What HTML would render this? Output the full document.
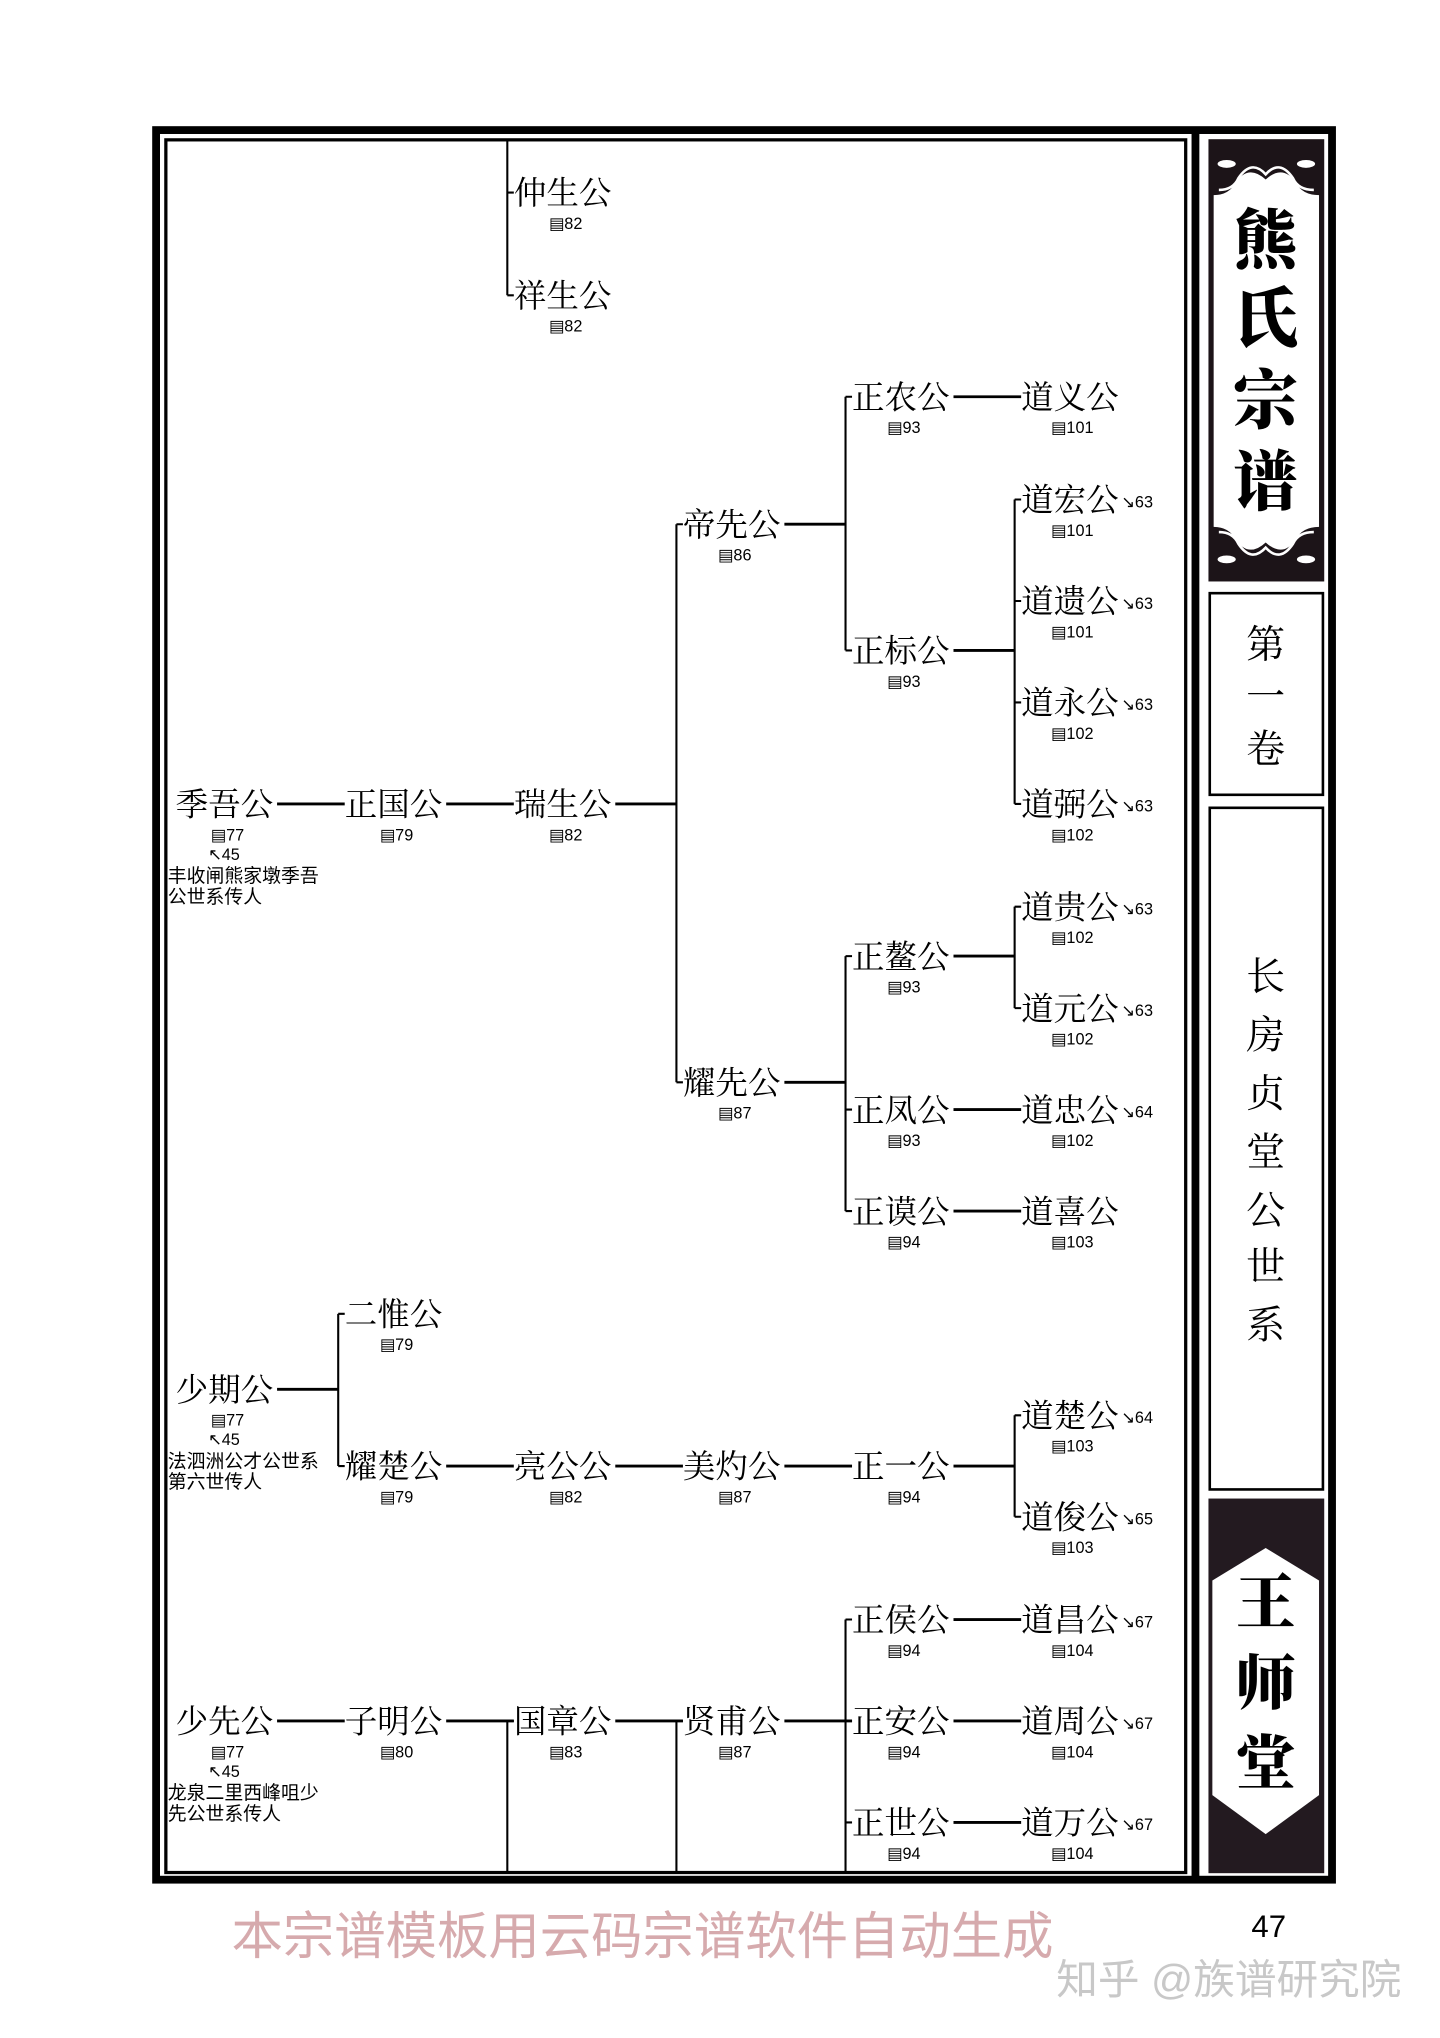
<!DOCTYPE html>
<html><head><meta charset="utf-8"><style>
html,body{margin:0;padding:0;background:#fff;}
svg{display:block;}
.n{font-family:"Liberation Serif","Noto Serif CJK SC",serif;font-size:25px;fill:#000;}
.r{font-family:"Liberation Sans Narrow","Liberation Sans",sans-serif;font-size:12.5px;fill:#000;}
.t{font-family:"Liberation Sans","Noto Sans CJK SC",sans-serif;font-size:14.5px;fill:#000;}
.s{font-family:"Liberation Serif","Noto Serif CJK SC",serif;fill:#000;text-anchor:middle;}
</style></head><body>
<svg width="1440" height="2038" viewBox="0 0 1107 1566.7" xmlns="http://www.w3.org/2000/svg">
<rect x="0" y="0" width="1107" height="1567" fill="#fff"/>
<rect x="120" y="100" width="904" height="1345" fill="none" stroke="#000" stroke-width="6"/>
<rect x="127.5" y="107.5" width="784" height="1332" fill="none" stroke="#000" stroke-width="2.5"/>
<rect x="916" y="100" width="6" height="1345" fill="#000"/>
<rect x="929" y="107" width="89" height="340" fill="#1c1418"/>
<path d="M933 150 Q945 150 950 140 Q960 126 973 138 Q986 126 996 140 Q1001 150 1014 150 L1014 405 Q1001 405 996 415 Q986 429 973 417 Q960 429 950 415 Q945 405 933 405 Z" fill="#fff"/>
<path d="M937 146 Q948 146 952 137 Q962 122 973 134 Q984 122 994 137 Q998 146 1010 146" fill="none" stroke="#fff" stroke-width="2"/>
<path d="M937 409 Q948 409 952 418 Q962 433 973 421 Q984 433 994 418 Q998 409 1010 409" fill="none" stroke="#fff" stroke-width="2"/>
<g fill="#fff"><ellipse cx="943" cy="126" rx="7" ry="3"/><ellipse cx="1004" cy="126" rx="7" ry="3"/><ellipse cx="943" cy="430" rx="7" ry="3"/><ellipse cx="1004" cy="430" rx="7" ry="3"/></g>
<text class="s" x="973" y="202" font-size="50" font-weight="900">熊</text>
<text class="s" x="973" y="262" font-size="50" font-weight="900">氏</text>
<text class="s" x="973" y="325" font-size="50" font-weight="900">宗</text>
<text class="s" x="973" y="388" font-size="50" font-weight="900">谱</text>
<rect x="930" y="456" width="87" height="155" fill="none" stroke="#000" stroke-width="2"/>
<text class="s" x="973" y="506" font-size="30">第</text>
<text class="s" x="973" y="546" font-size="30">一</text>
<text class="s" x="973" y="586" font-size="30">卷</text>
<rect x="930" y="621" width="87" height="524" fill="none" stroke="#000" stroke-width="2"/>
<text class="s" x="973" y="761" font-size="30">长</text>
<text class="s" x="973" y="806" font-size="30">房</text>
<text class="s" x="973" y="851" font-size="30">贞</text>
<text class="s" x="973" y="896" font-size="30">堂</text>
<text class="s" x="973" y="941" font-size="30">公</text>
<text class="s" x="973" y="984" font-size="30">世</text>
<text class="s" x="973" y="1029" font-size="30">系</text>
<rect x="929" y="1152" width="89" height="288" fill="#231a20"/>
<polygon points="973,1190 1014,1215 1014,1380 973,1410 932,1380 932,1215" fill="#fff"/>
<text class="s" x="973" y="1248" font-size="46" font-weight="900">王</text>
<text class="s" x="973" y="1310" font-size="46" font-weight="900">师</text>
<text class="s" x="973" y="1372" font-size="46" font-weight="900">堂</text>

<g stroke="#000" stroke-width="1.6" fill="none">
<path d="M390 107V227 M390 1323V1440 M520 403V832 M520 1323V1440 M650 305V500 M650 735V931 M650 1245V1440 M780 384V618 M780 697V775 M780 1088V1166 M260 1010V1127"/>
<path d="M390 148h5 M390 227h5 M520 403h5 M520 832h5 M650 305h5 M650 500h5 M650 735h5 M650 853h5 M650 931h5 M650 1245h5 M650 1323h5 M650 1401h5 M780 384h5 M780 462h5 M780 540h5 M780 618h5 M780 697h5 M780 775h5 M780 1088h5 M780 1166h5 M260 1010h5 M260 1127h5 M390 1323h5 M520 1323h5"/>
</g>
<g stroke="#000" stroke-width="2.2" fill="none">
<path d="M213 618H265 M343 618H395 M473 618H520 M603 403H650 M603 832H650 M733 305H785 M733 500H780 M733 735H780 M733 853H785 M733 931H785 M213 1068H260 M343 1127H395 M473 1127H525 M603 1127H655 M733 1127H780 M213 1323H265 M343 1323H395 M473 1323H525 M603 1323H655 M733 1245H785 M733 1323H785 M733 1401H785"/>
</g>

<g class="n">
<text x="395" y="157">仲生公</text><text x="395" y="236">祥生公</text>
<text x="655" y="314">正农公</text><text x="785" y="314">道义公</text>
<text x="785" y="393">道宏公</text><text x="525" y="412">帝先公</text>
<text x="785" y="471">道遗公</text><text x="655" y="509">正标公</text>
<text x="785" y="549">道永公</text>
<text x="135" y="627">季吾公</text><text x="265" y="627">正国公</text><text x="395" y="627">瑞生公</text><text x="785" y="627">道弼公</text>
<text x="785" y="706">道贵公</text><text x="655" y="744">正鳌公</text><text x="785" y="784">道元公</text>
<text x="525" y="841">耀先公</text><text x="655" y="862">正凤公</text><text x="785" y="862">道忠公</text>
<text x="655" y="940">正谟公</text><text x="785" y="940">道喜公</text>
<text x="265" y="1019">二惟公</text><text x="135" y="1077">少期公</text><text x="785" y="1097">道楚公</text>
<text x="265" y="1136">耀楚公</text><text x="395" y="1136">亮公公</text><text x="525" y="1136">美灼公</text><text x="655" y="1136">正一公</text>
<text x="785" y="1175">道俊公</text>
<text x="655" y="1254">正侯公</text><text x="785" y="1254">道昌公</text>
<text x="135" y="1332">少先公</text><text x="265" y="1332">子明公</text><text x="395" y="1332">国章公</text><text x="525" y="1332">贤甫公</text><text x="655" y="1332">正安公</text><text x="785" y="1332">道周公</text>
<text x="655" y="1410">正世公</text><text x="785" y="1410">道万公</text>
</g>
<g class="r" font-size="11.5">
<text x="862" y="390">↘63</text><text x="862" y="468">↘63</text><text x="862" y="546">↘63</text><text x="862" y="624">↘63</text>
<text x="862" y="703">↘63</text><text x="862" y="781">↘63</text><text x="862" y="859">↘64</text>
<text x="862" y="1094">↘64</text><text x="862" y="1172">↘65</text>
<text x="862" y="1251">↘67</text><text x="862" y="1329">↘67</text><text x="862" y="1407">↘67</text>
</g>
<g class="r">
<text x="422" y="176">▤82</text><text x="422" y="255">▤82</text>
<text x="682" y="333">▤93</text><text x="808" y="333">▤101</text>
<text x="808" y="412">▤101</text><text x="552" y="431">▤86</text>
<text x="808" y="490">▤101</text><text x="682" y="528">▤93</text>
<text x="808" y="568">▤102</text>
<text x="162" y="646">▤77</text><text x="292" y="646">▤79</text><text x="422" y="646">▤82</text><text x="808" y="646">▤102</text>
<text x="808" y="725">▤102</text><text x="682" y="763">▤93</text><text x="808" y="803">▤102</text>
<text x="552" y="860">▤87</text><text x="682" y="881">▤93</text><text x="808" y="881">▤102</text>
<text x="682" y="959">▤94</text><text x="808" y="959">▤103</text>
<text x="292" y="1038">▤79</text><text x="162" y="1096">▤77</text><text x="808" y="1116">▤103</text>
<text x="292" y="1155">▤79</text><text x="422" y="1155">▤82</text><text x="552" y="1155">▤87</text><text x="682" y="1155">▤94</text>
<text x="808" y="1194">▤103</text>
<text x="682" y="1273">▤94</text><text x="808" y="1273">▤104</text>
<text x="162" y="1351">▤77</text><text x="292" y="1351">▤80</text><text x="422" y="1351">▤83</text><text x="552" y="1351">▤87</text><text x="682" y="1351">▤94</text><text x="808" y="1351">▤104</text>
<text x="682" y="1429">▤94</text><text x="808" y="1429">▤104</text>
<text x="160" y="661">↖45</text><text x="160" y="1111">↖45</text><text x="160" y="1366">↖45</text>
</g>
<g class="t">
<text x="129" y="678">丰收闸熊家墩季吾</text><text x="129" y="694">公世系传人</text>
<text x="129" y="1128">法泗洲公才公世系</text><text x="129" y="1144">第六世传人</text>
<text x="129" y="1383">龙泉二里西峰咀少</text><text x="129" y="1399">先公世系传人</text>
</g>
<text x="178" y="1502" font-family="Liberation Sans,'Noto Sans CJK SC',sans-serif" font-size="39.5" fill="#d6aaad">本宗谱模板用云码宗谱软件自动生成</text>
<text x="962" y="1489" font-family="Liberation Sans,sans-serif" font-size="24" fill="#000">47</text>
<text x="812" y="1533" font-family="Liberation Sans,'Noto Sans CJK SC',sans-serif" font-size="32" fill="#c8c8c8">知乎 @族谱研究院</text>
</svg>
</body></html>
